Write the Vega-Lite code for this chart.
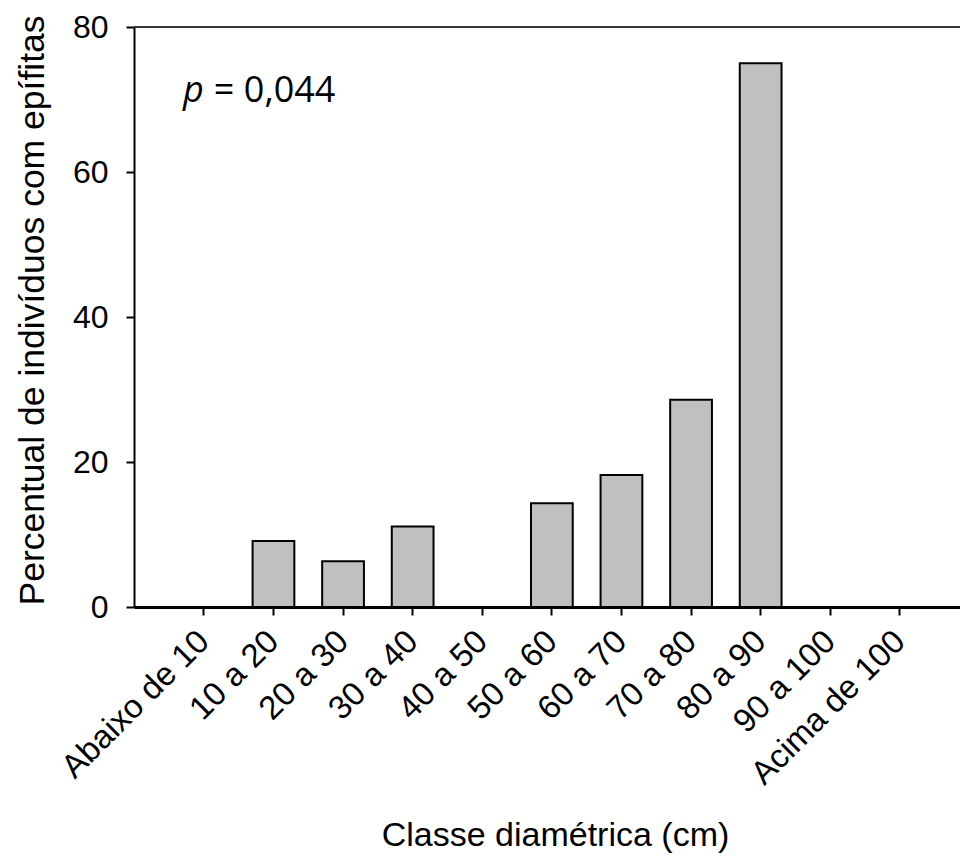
{
  "$schema": "https://vega.github.io/schema/vega-lite/v6.json",
  "width": 826,
  "height": 580,
  "autosize": "none",
  "padding": {"left": 134, "top": 27, "right": 0, "bottom": 254},
  "background": "white",
  "config": {"view": {"stroke": null}, "font": "Liberation Sans"},
  "datasets": {
    "barras": [
      {"classe": "Abaixo de 10", "percentual": 0},
      {"classe": "10 a 20", "percentual": 9.1},
      {"classe": "20 a 30", "percentual": 6.3},
      {"classe": "30 a 40", "percentual": 11.1},
      {"classe": "40 a 50", "percentual": 0},
      {"classe": "50 a 60", "percentual": 14.3},
      {"classe": "60 a 70", "percentual": 18.2},
      {"classe": "70 a 80", "percentual": 28.6},
      {"classe": "80 a 90", "percentual": 75},
      {"classe": "90 a 100", "percentual": 0},
      {"classe": "Acima de 100", "percentual": 0}
    ],
    "anotacao": [
      {"classe": "Abaixo de 10", "percentual": 69.7, "p": "p", "resto": "= 0,044"}
    ]
  },
  "layer": [
    {
      "data": {"name": "barras"},
      "mark": {"type": "rule", "color": "#3a3a3a", "strokeWidth": 2},
      "encoding": {"y": {"datum": 80, "type": "quantitative"}}
    },
    {
      "data": {"name": "barras"},
      "mark": {"type": "bar", "fill": "#c0c0c0", "stroke": "black", "strokeWidth": 2},
      "transform": [{"filter": "datum.percentual > 0"}],
      "encoding": {
        "x": {
          "field": "classe",
          "type": "nominal",
          "sort": null,
          "scale": {
            "domain": ["Abaixo de 10", "10 a 20", "20 a 30", "30 a 40", "40 a 50", "50 a 60", "60 a 70", "70 a 80", "80 a 90", "90 a 100", "Acima de 100"],
            "paddingInner": 0.4, "paddingOuter": 0.634, "align": 0.555
          },
          "axis": {
            "title": "Classe diamétrica (cm)",
            "titleFont": "Liberation Sans",
            "titleFontSize": 34,
            "titleFontWeight": "normal",
            "titleColor": "black",
            "titleBaseline": "alphabetic",
            "titleX": 421,
            "titleY": 238,
            "labelAngle": -45,
            "labelAlign": "right",
            "labelBaseline": "middle",
            "labelFontSize": 33,
            "labelColor": "black",
            "labelPadding": 21,
            "labelLimit": 0,
            "labelOverlap": false,
            "domainColor": "black",
            "domainWidth": 3,
            "tickColor": "black",
            "tickWidth": 2,
            "tickSize": 8
          }
        },
        "y": {
          "field": "percentual",
          "type": "quantitative",
          "scale": {"domain": [0, 80], "nice": false},
          "axis": {
            "title": "Percentual de indivíduos com epífitas",
            "titleFont": "Liberation Sans",
            "titleFontSize": 35.5,
            "titleFontWeight": "normal",
            "titleColor": "black",
            "titleBaseline": "alphabetic",
            "titleX": -91,
            "titleY": 283,
            "values": [0, 20, 40, 60, 80],
            "grid": false,
            "labelFontSize": 32,
            "labelColor": "black",
            "labelPadding": 18,
            "domainColor": "black",
            "domainWidth": 2,
            "tickColor": "black",
            "tickWidth": 2,
            "tickSize": 8
          }
        }
      }
    },
    {
      "data": {"name": "anotacao"},
      "mark": {"type": "text", "font": "Open Sans", "fontStyle": "italic", "fontSize": 36, "align": "right", "baseline": "alphabetic", "fill": "black"},
      "encoding": {
        "x": {"field": "classe", "type": "nominal"},
        "y": {"field": "percentual", "type": "quantitative"},
        "text": {"field": "p"}
      }
    },
    {
      "data": {"name": "anotacao"},
      "mark": {"type": "text", "font": "Open Sans", "fontSize": 36, "align": "left", "baseline": "alphabetic", "dx": 10, "fill": "black"},
      "encoding": {
        "x": {"field": "classe", "type": "nominal"},
        "y": {"field": "percentual", "type": "quantitative"},
        "text": {"field": "resto"}
      }
    }
  ]
}
